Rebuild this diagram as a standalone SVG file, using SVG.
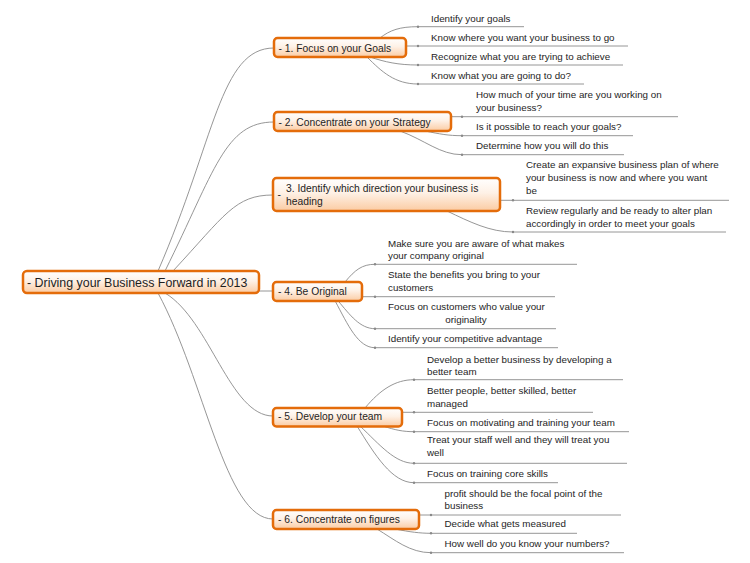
<svg xmlns="http://www.w3.org/2000/svg" width="750" height="563" viewBox="0 0 750 563">
<defs>
<linearGradient id="g" x1="0" y1="0" x2="0" y2="1">
<stop offset="0" stop-color="#FFFFFF"/>
<stop offset="0.45" stop-color="#FEF1E6"/>
<stop offset="1" stop-color="#FBCBA2"/>
</linearGradient>
<marker id="dot" markerWidth="4" markerHeight="4" refX="2" refY="2" markerUnits="userSpaceOnUse">
<circle cx="2" cy="2" r="1.2" fill="#888"/>
</marker>
<style>
.box{fill:url(#g);stroke:#E46C0A;stroke-width:2.5}
.t{font-family:"Liberation Sans",Arial,sans-serif;fill:#1e1e1e}
.rt{font-size:12.4px}
.bt{font-size:10.3px}
.lt{font-size:9.8px}
.c{fill:none;stroke:#8a8a8a;stroke-width:0.9}
.lc{fill:none;stroke:#8a8a8a;stroke-width:0.9;marker-end:url(#dot)}
.u{stroke:#8a8a8a;stroke-width:0.9}
</style>
</defs>
<rect width="750" height="563" fill="#FFFFFF"/>

<g id="connectors">
<path class="c" d="M158,271 C215,140 220,48 274,48"/>
<path class="c" d="M165,271 C215,170 225,122 274,122"/>
<path class="c" d="M173,271 C225,215 235,195 273,195"/>
<path class="c" d="M259,291 L273,291"/>
<path class="c" d="M165,293 C210,320 230,416 273,416"/>
<path class="c" d="M158,293 C205,380 225,519 273,519"/>

<path class="lc" d="M380,38 C390,30 400,26.7 418,26.7"/>
<path class="lc" d="M406,46 L418,46"/>
<path class="lc" d="M370,57 C385,62 398,65 418,65"/>
<path class="lc" d="M367,57 C382,72 395,84 418,84"/>

<path class="lc" d="M451,116.7 L462,116.7"/>
<path class="lc" d="M425,131 C440,134 448,135.7 462,135.7"/>
<path class="lc" d="M400,131 C425,140 440,154.7 462,154.7"/>

<path class="lc" d="M500,200.3 L513,200.3"/>
<path class="lc" d="M447,211 C470,222 490,232 513,232"/>

<path class="lc" d="M345,282 C355,270 362,264.3 375,264.3"/>
<path class="lc" d="M362,296.7 L375,296.7"/>
<path class="lc" d="M338,300.7 C350,315 360,328.7 375,328.7"/>
<path class="lc" d="M335,300.7 C348,325 358,347.7 375,347.7"/>

<path class="lc" d="M365,408 C380,390 395,379.7 414,379.7"/>
<path class="lc" d="M402,412.3 L414,412.3"/>
<path class="lc" d="M383,426 C395,430 403,431.7 414,431.7"/>
<path class="lc" d="M360,426 C380,445 395,463.3 414,463.3"/>
<path class="lc" d="M357,426 C375,455 392,482.7 414,482.7"/>

<path class="lc" d="M419,515 L431,515"/>
<path class="lc" d="M395,529 C410,532 420,533.3 431,533.3"/>
<path class="lc" d="M377,529 C395,540 410,552.7 431,552.7"/>
</g>

<g id="root">
<rect class="box" x="23" y="271" width="236" height="22" rx="4"/>
<text class="t rt" x="27" y="286.5">- Driving your Business Forward in 2013</text>
</g>

<g id="b1">
<rect class="box" x="274" y="38" width="132" height="19" rx="3.5"/>
<text class="t bt" x="278.5" y="51.5">- 1. Focus on your Goals</text>
</g>
<g id="b2">
<rect class="box" x="274" y="112" width="177" height="19" rx="3.5"/>
<text class="t bt" x="278.5" y="125.5">- 2. Concentrate on your Strategy</text>
</g>
<g id="b3">
<rect class="box" x="273" y="178" width="227" height="33" rx="3.5"/>
<text class="t bt" x="277.5" y="198">-</text>
<text class="t bt" x="286" y="191.7">3. Identify which direction your business is</text>
<text class="t bt" x="286" y="205">heading</text>
</g>
<g id="b4">
<rect class="box" x="273" y="282" width="89" height="19" rx="3.5"/>
<text class="t bt" x="278" y="294.7">- 4. Be Original</text>
</g>
<g id="b5">
<rect class="box" x="273" y="408" width="129" height="18.5" rx="3.5"/>
<text class="t bt" x="278" y="420">- 5. Develop your team</text>
</g>
<g id="b6">
<rect class="box" x="273" y="510" width="146" height="19" rx="3.5"/>
<text class="t bt" x="278" y="523">- 6. Concentrate on figures</text>
</g>

<g id="l1a"><line class="u" x1="418" y1="26.7" x2="524" y2="26.7"/><text class="t lt" x="431" y="22">Identify your goals</text></g>
<g id="l1b"><line class="u" x1="418" y1="46" x2="628" y2="46"/><text class="t lt" x="431" y="41">Know where you want your business to go</text></g>
<g id="l1c"><line class="u" x1="418" y1="65" x2="623" y2="65"/><text class="t lt" x="431" y="60">Recognize what you are trying to achieve</text></g>
<g id="l1d"><line class="u" x1="418" y1="84" x2="584" y2="84"/><text class="t lt" x="431" y="79">Know what you are going to do?</text></g>

<g id="l2a"><line class="u" x1="462" y1="116.7" x2="678" y2="116.7"/><text class="t lt" x="476" y="98">How much of your time are you working on</text><text class="t lt" x="476" y="110.7">your business?</text></g>
<g id="l2b"><line class="u" x1="462" y1="135.7" x2="633" y2="135.7"/><text class="t lt" x="476" y="130">Is it possible to reach your goals?</text></g>
<g id="l2c"><line class="u" x1="462" y1="154.7" x2="624" y2="154.7"/><text class="t lt" x="476" y="149">Determine how you will do this</text></g>

<g id="l3a"><line class="u" x1="513" y1="200.3" x2="729" y2="200.3"/><text class="t lt" x="526" y="168">Create an expansive business plan of where</text><text class="t lt" x="526" y="181">your business is now and where you want</text><text class="t lt" x="526" y="194">be</text></g>
<g id="l3b"><line class="u" x1="513" y1="232" x2="726" y2="232"/><text class="t lt" x="526" y="214">Review regularly and be ready to alter plan</text><text class="t lt" x="526" y="226.7">accordingly in order to meet your goals</text></g>

<g id="l4a"><line class="u" x1="375" y1="264.3" x2="577" y2="264.3"/><text class="t lt" x="388" y="246.7">Make sure you are aware of what makes</text><text class="t lt" x="388" y="259.3">your company original</text></g>
<g id="l4b"><line class="u" x1="375" y1="296.7" x2="555" y2="296.7"/><text class="t lt" x="388" y="278.3">State the benefits you bring to your</text><text class="t lt" x="388" y="291">customers</text></g>
<g id="l4c"><line class="u" x1="375" y1="328.7" x2="556" y2="328.7"/><text class="t lt" x="388" y="310">Focus on customers who value your</text><text class="t lt" x="466" y="322.7" text-anchor="middle">originality</text></g>
<g id="l4d"><line class="u" x1="375" y1="347.7" x2="558" y2="347.7"/><text class="t lt" x="388" y="342.3">Identify your competitive advantage</text></g>

<g id="l5a"><line class="u" x1="414" y1="379.7" x2="623" y2="379.7"/><text class="t lt" x="427" y="362.7">Develop a better business by developing a</text><text class="t lt" x="427" y="375">better team</text></g>
<g id="l5b"><line class="u" x1="414" y1="412.3" x2="593" y2="412.3"/><text class="t lt" x="427" y="394.3">Better people, better skilled, better</text><text class="t lt" x="427" y="406.7">managed</text></g>
<g id="l5c"><line class="u" x1="414" y1="431.7" x2="629" y2="431.7"/><text class="t lt" x="427" y="426">Focus on motivating and training your team</text></g>
<g id="l5d"><line class="u" x1="414" y1="463.3" x2="627" y2="463.3"/><text class="t lt" x="427" y="443.3">Treat your staff well and they will treat you</text><text class="t lt" x="427" y="456">well</text></g>
<g id="l5e"><line class="u" x1="414" y1="482.7" x2="558" y2="482.7"/><text class="t lt" x="427" y="477.3">Focus on training core skills</text></g>

<g id="l6a"><line class="u" x1="431" y1="515" x2="621" y2="515"/><text class="t lt" x="444.5" y="496.7">profit should be the focal point of the</text><text class="t lt" x="444.5" y="509">business</text></g>
<g id="l6b"><line class="u" x1="431" y1="533.3" x2="577" y2="533.3"/><text class="t lt" x="444.5" y="527.3">Decide what gets measured</text></g>
<g id="l6c"><line class="u" x1="431" y1="552.7" x2="624" y2="552.7"/><text class="t lt" x="444.5" y="546.7">How well do you know your numbers?</text></g>
</svg>
